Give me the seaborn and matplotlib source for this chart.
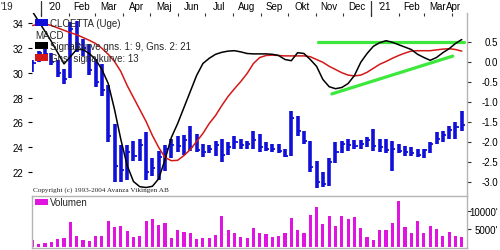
import numpy as np
import pandas as pd
import matplotlib
matplotlib.use("Agg")
import matplotlib.pyplot as plt
import seaborn as sns
from matplotlib.patches import Rectangle
import matplotlib.transforms as mtransforms

# ---------------- data ----------------
week_start = "2019-12-23"
n_weeks = 69

high = [31.0, 31.8, 32.0, 31.6, 31.0, 30.3, 34.1, 34.2, 32.7, 32.3,
        31.1, 30.7, 29.0, 25.9, 24.2, 24.2, 24.5, 24.7, 25.2, 23.1,
        23.7, 24.2, 24.7, 24.9, 25.0, 25.7, 25.1, 24.3, 24.2, 24.5,
        24.7, 24.4, 24.9, 24.7, 24.5, 25.3, 25.1, 24.4, 24.3, 24.3,
        23.9, 26.9, 26.5, 25.3, 24.5, 22.9, 22.0, 23.1, 24.4, 24.5,
        24.7, 24.6, 24.6, 24.8, 25.5, 24.7, 24.7, 24.5, 24.3, 24.1,
        24.0, 23.9, 23.9, 24.4, 25.2, 25.3, 25.7, 26.0, 26.9]
low = [30.1, 30.9, 31.2, 30.6, 29.7, 29.1, 29.6, 31.7, 31.4, 29.8,
       28.9, 28.1, 24.4, 21.2, 21.2, 21.4, 22.9, 22.9, 21.4, 21.7,
       21.4, 22.1, 23.1, 23.6, 23.4, 23.7, 23.6, 23.2, 23.5, 23.3,
       22.8, 23.4, 23.9, 23.9, 23.9, 23.9, 23.6, 23.7, 23.6, 23.5,
       23.2, 23.3, 24.9, 24.3, 22.0, 20.7, 20.8, 20.9, 22.7, 23.5,
       23.7, 23.9, 23.9, 24.0, 23.7, 23.6, 23.5, 22.1, 23.5, 23.3,
       23.3, 23.2, 23.1, 23.5, 24.3, 24.4, 24.7, 24.7, 25.3]
close = [30.8, 31.6, 31.5, 30.9, 30.0, 29.5, 33.5, 32.3, 32.0, 30.2,
         29.3, 28.6, 24.9, 22.5, 22.2, 23.6, 23.3, 24.2, 22.0, 22.3,
         23.2, 23.9, 24.2, 24.1, 24.6, 24.0, 23.8, 23.6, 23.9, 24.2,
         23.4, 24.0, 24.4, 24.2, 24.3, 24.6, 24.0, 23.9, 23.9, 23.7,
         23.3, 26.4, 25.3, 24.5, 22.4, 21.2, 21.0, 22.8, 23.6, 24.3,
         24.2, 24.1, 24.3, 24.6, 24.1, 24.0, 23.8, 23.9, 23.7, 23.6,
         23.5, 23.4, 23.8, 24.3, 24.7, 25.0, 25.4, 25.6, 25.8]

macd = [1.25, 1.0, 0.75, 0.5, 0.22, -0.06, 0.12, 0.3, 0.3, 0.2,
        0.05, -0.2, -0.55, -1.2, -1.95, -2.6, -3.0, -3.13, -3.15, -3.12,
        -2.93, -2.45, -1.9, -1.55, -1.15, -0.75, -0.35, -0.05, 0.08, 0.18,
        0.23, 0.26, 0.27, 0.24, 0.2, 0.19, 0.19, 0.19, 0.18, 0.15,
        0.05, 0.02, 0.22, 0.2, 0.05, -0.12, -0.45, -0.63, -0.68, -0.65,
        -0.55, -0.35, -0.02, 0.2, 0.38, 0.47, 0.52, 0.48, 0.42, 0.36,
        0.3, 0.18, 0.1, 0.03, 0.1, 0.22, 0.32, 0.45, 0.55]
signal = [0.9, 0.93, 0.94, 0.9, 0.84, 0.78, 0.72, 0.67, 0.6, 0.53,
          0.45, 0.33, 0.18, 0.0, -0.25, -0.6, -0.9, -1.2, -1.5, -1.85,
          -2.15, -2.4, -2.48, -2.47, -2.35, -2.2, -2.0, -1.8, -1.55, -1.35,
          -1.1, -0.87, -0.68, -0.5, -0.3, -0.05, 0.1, 0.15, 0.16, 0.15,
          0.14, 0.14, 0.14, 0.14, 0.12, 0.05, -0.02, -0.12, -0.2, -0.28,
          -0.34, -0.36, -0.34, -0.27, -0.17, -0.07, 0.0, 0.08, 0.15, 0.21,
          0.26, 0.27, 0.27, 0.27, 0.29, 0.31, 0.32, 0.3, 0.26]

volume = [1900, 800, 1100, 1300, 2200, 2400, 6900, 3000, 2000, 1700,
          3000, 3000, 7200, 5500, 5700, 4400, 2700, 3000, 7200, 7800,
          6100, 6600, 2400, 4700, 4300, 3900, 2200, 2400, 2500, 3300,
          8700, 4700, 3900, 2700, 2500, 5200, 3900, 3600, 2700, 3100,
          3900, 8000, 4700, 3900, 9000, 11200, 6400, 8700, 5900, 8700,
          7800, 8200, 5200, 2700, 2000, 4700, 4700, 6600, 12900, 5600,
          3900, 7300, 3800, 5900, 5100, 3100, 4300, 3000, 2900]

# green trend lines (days since 2020-01-01, MACD value)
trend_flat_x = [308, 470]
trend_flat_y = [0.5, 0.5]
trend_up_x = [323, 457]
trend_up_y = [-0.81, 0.135]

month_labels = ["'20", "Feb", "Mar", "Apr", "Maj", "Jun", "Jul", "Aug",
                "Sep", "Okt", "Nov", "Dec", "'21", "Feb", "Mar", "Apr"]
price_ticks = [22, 24, 26, 28, 30, 32, 34]
macd_ticks = [-3.0, -2.5, -2.0, -1.5, -1.0, -0.5, 0.0, 0.5]
vol_ticks = [5000, 10000]
vol_tick_labels = ["5000'", "10000'"]

# ---------------- setup ----------------
sns.set_theme(style="white")
plt.rcParams['font.family'] = ['Liberation Sans', 'DejaVu Sans']
plt.rcParams['axes.unicode_minus'] = False
FS = 7.0

dates = pd.date_range(week_start, periods=n_weeks, freq="7D")
origin = pd.Timestamp("2020-01-01")
days = np.asarray((dates - origin).days, dtype=float)
df = pd.DataFrame({"day": days, "high": high, "low": low, "close": close,
                   "macd": macd, "signal": signal, "volume": volume})

month_starts = pd.date_range("2020-01-01", "2021-04-01", freq="MS")
ms_days = np.asarray((month_starts - origin).days, dtype=float)
mid_days = list(ms_days[:-1] + np.diff(ms_days) / 2.0) + [458.0]
year_days = [0.0, 366.0]

W, H = 500, 251
fig = plt.figure(figsize=(5.0, 2.51), dpi=100)
fig.patch.set_facecolor("white")
def fx(px): return px / W
def fy(py): return 1 - py / H

L, R = 32, 467
ax = fig.add_axes([fx(L), fy(197), fx(R) - fx(L), fy(14) - fy(197)])
axv = fig.add_axes([fx(L), fy(249), fx(R) - fx(L), fy(197) - fy(249)])
ax2 = ax.twinx()

XMIN, XMAX = -9.5, 472.8
BLUE = "#1010D8"
MAG = "#E014E0"

# ---------------- price bars ----------------
ax.vlines(df["day"], df["low"], df["high"], color=BLUE, lw=2.6, zorder=2)
ax.hlines(df["close"], df["day"], df["day"] + 3.4, color=BLUE, lw=1.3, zorder=2)
ax.set_xlim(XMIN, XMAX)
ax.set_ylim(20.07, 34.83)
ax.set_yticks(price_ticks)
ax.set_yticklabels([str(v) for v in price_ticks])
ax.tick_params(axis="y", which="major", left=True, right=False, direction="out",
               length=2.6, width=0.8, color="black", pad=3.5, labelsize=FS,
               labelcolor="black")
for s in ax.spines.values():
    s.set_visible(False)

# top month axis
ax.xaxis.set_ticks_position("top")
ax.set_xticks(ms_days)
ax.set_xticklabels([""] * len(ms_days))
ax.set_xticks(mid_days, minor=True)
ax.set_xticklabels(month_labels, minor=True)
ax.tick_params(axis="x", which="major", top=True, bottom=False, direction="in",
               length=2.3, width=0.8, color="#333333")
ax.tick_params(axis="x", which="minor", top=True, bottom=False, length=0,
               pad=1.5, labelsize=FS, labelcolor="black")
tr = mtransforms.blended_transform_factory(ax.transData, ax.transAxes)
for yd in year_days:
    ax.plot([yd, yd], [1 - 3 / 183, 1 + 12 / 183], color="#333333", lw=0.9,
            transform=tr, clip_on=False)
fig.text(fx(7), fy(12), "'19", ha="center", va="bottom", fontsize=FS)

# ---------------- MACD ----------------
sns.lineplot(x=trend_flat_x, y=trend_flat_y, ax=ax2, color="#3BE83B", lw=2.3, legend=False)
sns.lineplot(x=trend_up_x, y=trend_up_y, ax=ax2, color="#3BE83B", lw=2.3, legend=False)
sns.lineplot(data=df, x="day", y="signal", ax=ax2, color="#D41818", lw=1.1, legend=False)
sns.lineplot(data=df, x="day", y="macd", ax=ax2, color="black", lw=1.1, legend=False)
ax2.set_xlim(XMIN, XMAX)
ax2.set_ylim(-3.3625, 1.2125)
ax2.set_yticks(macd_ticks)
ax2.set_yticklabels([f"{v:.1f}" for v in macd_ticks], ha="right")
ax2.tick_params(axis="y", right=True, left=False, direction="out", length=2.6,
                width=0.8, color="#333333", pad=19.5, labelsize=FS, labelcolor="black")
ax2.set_xlabel("")
ax2.set_ylabel("")
for name, s in ax2.spines.items():
    s.set_visible(name == "right")
ax2.spines["right"].set_color("#B4B4B4")
ax2.spines["right"].set_linewidth(1.0)

# ---------------- volume ----------------
sns.barplot(data=df, x="day", y="volume", ax=axv, native_scale=True, color=MAG,
            saturation=1, width=0.5, errorbar=None, linewidth=0)
axv.set_xlim(XMIN, XMAX)
axv.set_ylim(-280, 14170)
axv.set_xlabel("")
axv.set_ylabel("")
axv.set_xticks([])
axv.yaxis.tick_right()
axv.set_yticks(vol_ticks)
axv.set_yticklabels(vol_tick_labels, ha="right")
axv.tick_params(axis="y", right=True, left=False, direction="out", length=2.6,
                width=0.8, color="#333333", pad=19.5, labelsize=FS, labelcolor="black")
for s in axv.spines.values():
    s.set_visible(True)
    s.set_color("#B4B4B4")
    s.set_linewidth(1.0)

# ---------------- legends / texts ----------------
def patch(x0, y0, x1, y1, color):
    fig.patches.append(Rectangle((fx(x0), fy(y1)), fx(x1) - fx(x0), fy(y0) - fy(y1),
                                 transform=fig.transFigure, facecolor=color,
                                 edgecolor="none", zorder=5))

patch(35, 20, 48, 27, BLUE)
fig.text(fx(50), fy(24), "CLOETTA (Uge)", ha="left", va="center", fontsize=FS, zorder=6)
fig.text(fx(35), fy(36), "MACD", ha="left", va="center", fontsize=FS, zorder=6)
patch(35, 43, 48, 50, "black")
fig.text(fx(50), fy(47), "Signalkurve gns. 1: 9, Gns. 2: 21", ha="left", va="center",
         fontsize=FS, zorder=6)
patch(35, 55, 48, 62, "#D41818")
fig.text(fx(50), fy(58.5), "Gns. signalkurve: 13", ha="left", va="center",
         fontsize=FS, zorder=6)

fig.text(fx(33), fy(190), "Copyright (c) 1993-2004 Avanza Vikingen AB", ha="left",
         va="center", fontsize=5.2, family=["Liberation Serif", "DejaVu Serif"], zorder=6)

patch(35, 200, 48, 206, MAG)
fig.text(fx(50), fy(203), "Volumen", ha="left", va="center", fontsize=FS, zorder=6)

fig.savefig("out.png", dpi=100, facecolor="white")
